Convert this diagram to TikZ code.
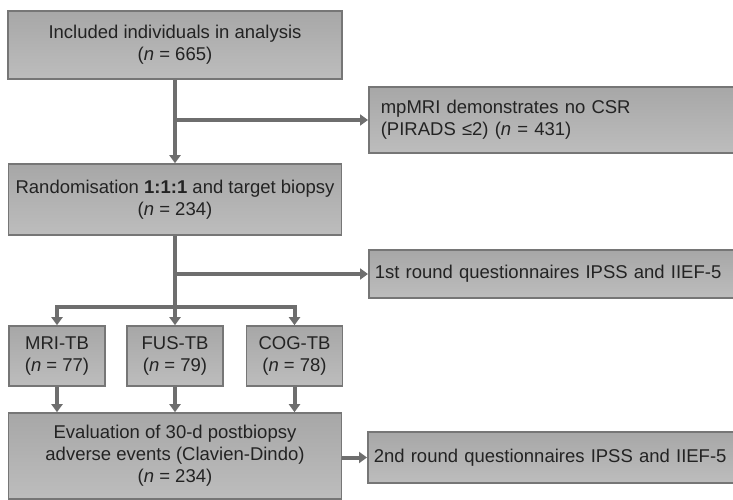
\documentclass[tikz,border=0pt]{standalone}
\usepackage{fontspec}
\setmainfont{Liberation Sans}
\usetikzlibrary{arrows.meta}

\definecolor{boxtop}{HTML}{A7A7A7}
\definecolor{boxbottom}{HTML}{BDBDBD}
\definecolor{boxline}{HTML}{767676}
\definecolor{linegray}{HTML}{6E6E6E}
\definecolor{textgray}{HTML}{232323}

\tikzstyle{box} = [draw=boxline,line width=1.6pt,top color=boxtop,bottom color=boxbottom,
  text=textgray,font=\fontsize{18.5}{22}\selectfont,align=center,inner sep=0pt]
\tikzstyle{sidebox} = [box,anchor=west,align=left,inner xsep=6pt]
\tikzstyle{trunk} = [draw=linegray,line width=4pt]
\tikzstyle{flow} = [trunk,-{Triangle[width=11pt,length=8pt]}]

\begin{document}
\begin{tikzpicture}[x=1pt,y=-1pt]
    \useasboundingbox (0,0) rectangle (733,500);

    % main column
    \node[box, minimum width=334pt, minimum height=68pt] (incl) at (175,45)
      {Included individuals in analysis\\(\textit{n} = 665)};
    \node[box, minimum width=333pt, minimum height=71pt] (rand) at (175,199.5)
      {Randomisation \textbf{1:1:1} and target biopsy\\(\textit{n} = 234)};
    \node[box, minimum width=333pt, minimum height=86pt] (eval) at (175,456)
      {Evaluation of 30-d postbiopsy\\adverse events (Clavien-Dindo)\\(\textit{n} = 234)};

    % the three arms
    \foreach \nodename/\label/\x/\value in {
      mri/MRI-TB/57/77,
      fus/FUS-TB/175/79,
      cog/COG-TB/294.5/78}
    {
      \node[box, minimum width=96pt, minimum height=60pt] (\nodename) at (\x,356)
        {\label\\(\textit{n} = \value)};
    }

    % side boxes
    \node[sidebox, inner xsep=12pt, text width=348pt, minimum height=66pt] (nocsr) at (368,120)
      {mpMRI demonstrates no CSR\\(PIRADS ≤2) (\textit{n} = 431)};
    \node[sidebox, text width=360pt, minimum height=48pt] (quest1) at (368,274)
      {1st round questionnaires IPSS and IIEF-5};
    \node[sidebox, text width=361pt, minimum height=51pt] (quest2) at (367,457.5)
      {2nd round questionnaires IPSS and IIEF-5};

    \coordinate (fork) at (175,307);

    %edges or lines
    \draw[flow] (incl.south) -- (rand.north);
    \draw[flow] (incl.south |- nocsr.west) -- (nocsr.west);
    \draw[trunk] (rand.south) -- (fork);
    \draw[flow] (rand.south |- quest1.west) -- (quest1.west);
    \foreach \nodename in {mri,fus,cog}
    {
      \draw[flow] (fork) -| (\nodename.north);
      \draw[flow] (\nodename.south) -- (\nodename.south |- eval.north);
    }
    \draw[flow] (eval.east |- quest2.west) -- (quest2.west);
\end{tikzpicture}
\end{document}
